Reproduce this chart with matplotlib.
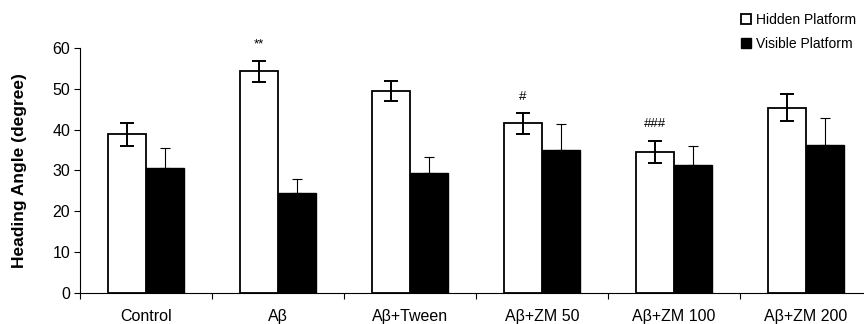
import matplotlib

matplotlib.use("Agg")
import matplotlib.pyplot as plt  # noqa: E402
from matplotlib.lines import Line2D  # noqa: E402

plt.rcParams["font.family"] = ["Liberation Sans", "DejaVu Sans"]

groups = ["Control", "Aβ", "Aβ+Tween", "Aβ+ZM 50", "Aβ+ZM 100", "Aβ+ZM 200"]
hidden = [38.8, 54.3, 49.4, 41.5, 34.5, 45.4]
hidden_err = [2.9, 2.6, 2.5, 2.5, 2.8, 3.4]
visible = [30.5, 24.4, 29.3, 34.9, 31.3, 36.1]
visible_err = [5.0, 3.5, 3.9, 6.5, 4.6, 6.7]
marks = ["", "**", "", "#", "###", ""]

fig = plt.figure(figsize=(8.64, 3.24), dpi=100)
ax = fig.add_axes([0.0926, 0.0966, 0.9074, 0.7554])

w = 0.29
xs = list(range(len(groups)))
ax.bar([x - w / 2 for x in xs], hidden, w, color="white", edgecolor="black", lw=1.3, zorder=2)
ax.errorbar([x - w / 2 for x in xs], hidden, yerr=hidden_err, fmt="none", ecolor="black",
            elinewidth=1.4, capsize=4.7, capthick=1.4, zorder=3)
ax.bar([x + w / 2 for x in xs], visible, w, color="black", edgecolor="black", lw=1, zorder=2)
ax.errorbar([x + w / 2 for x in xs], visible, yerr=[[0] * len(xs), visible_err], fmt="none",
            ecolor="black", elinewidth=0.8, capsize=3.6, capthick=0.8, zorder=1)

for x, h, e, m in zip(xs, hidden, hidden_err, marks):
    if m:
        ax.text(x - w / 2, h + e + 2.6, m, ha="center", va="bottom", fontsize=9.5)

ax.set_xlim(-0.5, 5.44)
ax.set_ylim(0, 60)
ax.set_yticks(range(0, 61, 10))
ax.set_xticks([x - 0.5 for x in xs], minor=False)
ax.set_xticklabels([])
ax.set_xticks(xs, minor=True)
ax.set_xticklabels(groups, minor=True, fontsize=11.5)
ax.tick_params(axis="x", which="minor", length=0, pad=12)
ax.tick_params(axis="x", which="major", length=4, direction="out")
ax.tick_params(axis="y", length=4, direction="out", labelsize=11.5, pad=3)
ax.set_ylabel("Heading Angle (degree)", fontsize=12.5, fontweight="bold", labelpad=18)
ax.spines[["top", "right"]].set_visible(False)

handles = [Line2D([], [], ls="none", marker="s", ms=7.5, mfc="white", mec="black", mew=1.3),
           Line2D([], [], ls="none", marker="s", ms=7.5, mfc="black", mec="black")]
fig.legend(handles, ["Hidden Platform", "Visible Platform"], loc="upper right",
           bbox_to_anchor=(1.005, 1.0), frameon=False, fontsize=10, handletextpad=0.2,
           handlelength=1.0, labelspacing=0.75)

fig.savefig("out.png", dpi=100)
